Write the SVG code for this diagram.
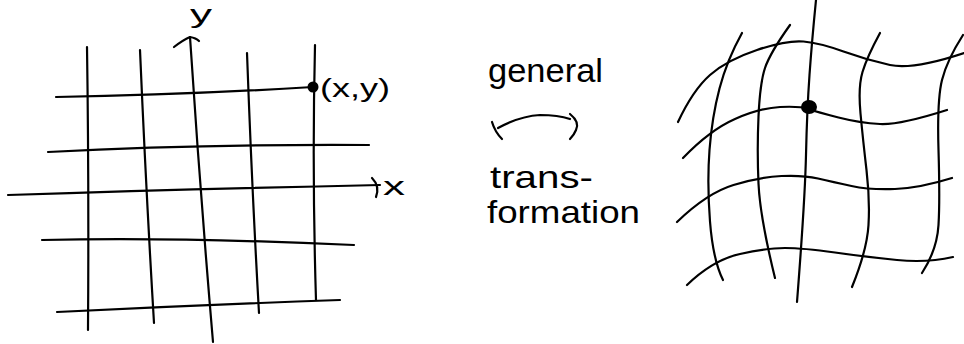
<svg xmlns="http://www.w3.org/2000/svg" width="964" height="344" viewBox="0 0 964 344">
<style>
.s{fill:none;stroke:#000;stroke-width:2.2;stroke-linecap:round;stroke-linejoin:round}
.t{font-family:"Liberation Sans",Arial,sans-serif;fill:#000}
.dot{fill:#000}
</style>
<rect width="964" height="344" fill="#fff"/>
<g id="left-grid">
<path class="s" d="M87,47 Q89,180 88,330"/>
<path class="s" d="M140,50 Q146,190 154,323"/>
<path class="s" d="M190,37 Q200,190 213,342"/>
<path class="s" d="M247,53 Q252,190 259,313"/>
<path class="s" d="M315,45 Q312,170 316,300"/>
<path class="s" d="M56,97 Q180,95 313,87"/>
<path class="s" d="M48,152 Q200,144 369,145"/>
<path class="s" d="M8,195 Q190,189 380,185"/>
<path class="s" d="M42,240 Q180,237 354,245"/>
<path class="s" d="M57,312 Q200,305 340,300"/>
<path class="s" d="M174,47 Q183,40 190,37 Q196,38 199,41"/>
<path class="s" d="M372,178 Q380,186 376,197"/>
<circle class="dot" cx="313" cy="87" r="5.5"/>
</g>
<g id="right-grid">
<path class="s" d="M742,33 Q727,60 719.5,88.5 Q712,117 709.5,150 Q707,183 710,221.5 Q713,260 723,280"/>
<path class="s" d="M790,25 Q770,53 765,68 Q760,83 758.5,116.5 Q757,150 758.5,183.5 Q760,217 775,278"/>
<path class="s" d="M816,0 Q812,40 809.5,75 Q807,110 806,155 Q805,200 797,302"/>
<path class="s" d="M880,33 Q867,57 862.5,72 Q858,87 860.5,113.5 Q863,140 866.5,170 Q870,200 868.5,225 Q867,250 852,287"/>
<path class="s" d="M963,35 Q947,60 942,80 Q937,100 938.5,150 Q940,200 938.5,225 Q937,250 922,273"/>
<path class="s" d="M678,122 Q693,90 710,75 Q727,60 757,50 Q787,40 803.5,41.5 Q820,43 843.5,51.5 Q867,60 890,65 Q913,70 964,53"/>
<path class="s" d="M683,158 Q710,130 735,119 Q760,108 780,107 Q800,106 808.5,109 Q817,112 838.5,117.5 Q860,123 880,124 Q900,125 947,110"/>
<path class="s" d="M677,222 Q707,193 733.5,185 Q760,177 781.5,176 Q803,175 818,178.5 Q833,182 851.5,186 Q870,190 895,189 Q920,188 952,178"/>
<path class="s" d="M687,285 Q713,260 740,254 Q767,248 785,248 Q803,248 835,252.5 Q867,257 897,260 Q927,263 953,257"/>
<ellipse class="dot" cx="809" cy="107" rx="8" ry="7"/>
</g>
<g id="connectors">
<path class="s" d="M492,122 Q495,132 502,139"/>
<path class="s" d="M498,128 Q520,116 540,115 Q558,115 570,119"/>
<path class="s" d="M570,114 Q580,122 576,130 Q574,135 570,139"/>
</g>
<g id="labels">
<text class="t" x="190" y="23" font-size="25" textLength="22" lengthAdjust="spacingAndGlyphs">y</text>
<text class="t" x="320" y="97" font-size="26" textLength="70" lengthAdjust="spacingAndGlyphs">(x,y)</text>
<text class="t" x="383" y="195" font-size="26" textLength="22" lengthAdjust="spacingAndGlyphs">x</text>
<text class="t" x="488" y="82" font-size="33" textLength="115" lengthAdjust="spacingAndGlyphs">general</text>
<text class="t" x="490" y="188" font-size="32" textLength="103" lengthAdjust="spacingAndGlyphs">trans-</text>
<text class="t" x="487" y="223" font-size="32" textLength="153" lengthAdjust="spacingAndGlyphs">formation</text>
</g>
</svg>
